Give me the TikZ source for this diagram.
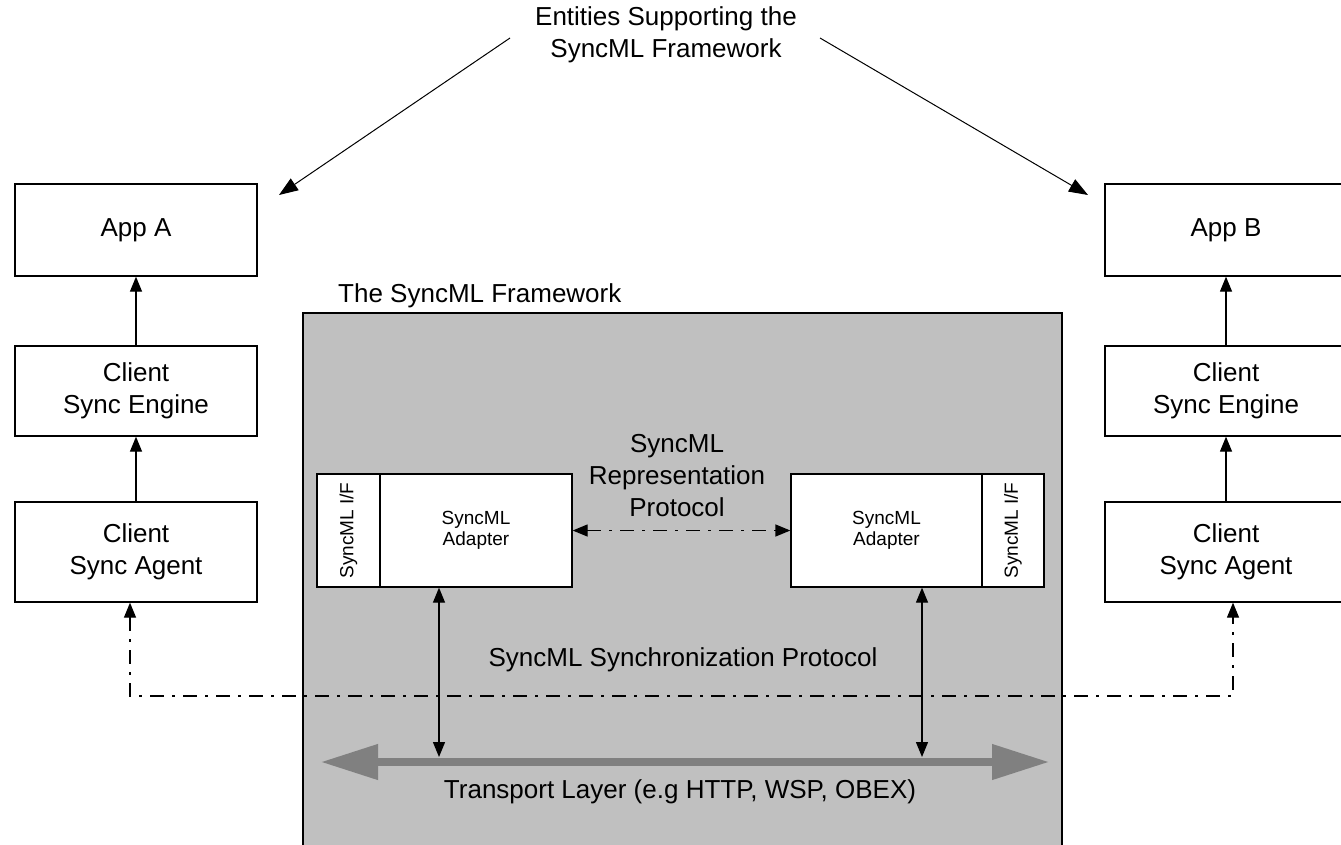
\documentclass[tikz,border=0pt]{standalone}
\usepackage{fontspec}
\setmainfont{Liberation Sans}
\usetikzlibrary{arrows.meta}
\definecolor{fwgray}{HTML}{C0C0C0}
\definecolor{tlgray}{HTML}{808080}
\begin{document}
\begin{tikzpicture}[x=1pt,y=-1pt,
  big/.style={font=\fontsize{26}{32}\selectfont},
  small/.style={font=\fontsize{19}{21}\selectfont},
  box/.style={draw, line width=1.3pt, fill=white, align=center, inner sep=0pt, big},
  adapter/.style={draw, line width=1.3pt, fill=white, align=center, inner sep=0pt, small,
                  minimum height=113pt},
  lbl/.style={align=center, inner sep=0pt, big},
  blk/.style={line width=1.3pt},
  onearrow/.style={blk, -{Triangle[length=15pt,width=12pt]}},
  twoarrow/.style={blk, {Triangle[length=15pt,width=12pt]}-{Triangle[length=15pt,width=12pt]}},
  dashdot/.style={line width=1.3pt, dash pattern=on 14pt off 8pt on 3pt off 8pt}
]
\useasboundingbox (0,0) rectangle (1341,844);
\fill[white] (0,0) rectangle (1341,844);

% heading and its two arrows
\node[lbl] (title) at (666,35) {Entities Supporting the\\SyncML Framework};
\coordinate (tl) at (510,38);
\coordinate (tr) at (820,38);
\coordinate (pa) at (279,195);
\coordinate (pb) at (1088,195);
\draw[line width=1pt, -{Triangle[length=19pt,width=14pt]}] (tl) -- (pa);
\draw[line width=1pt, -{Triangle[length=19pt,width=14pt]}] (tr) -- (pb);

% client stack A
\node[box, minimum width=242pt, minimum height=92pt] (appA) at (136,230) {App A};
\node[box, minimum width=242pt, minimum height=90pt] (engA) at (136,391) {Client\\Sync Engine};
\node[box, minimum width=242pt, minimum height=100pt] (agtA) at (136,552) {Client\\Sync Agent};
\draw[onearrow] (engA) -- (appA);
\draw[onearrow] (agtA) -- (engA);

% client stack B
\node[box, minimum width=242pt, minimum height=92pt] (appB) at (1226,230) {App B};
\node[box, minimum width=242pt, minimum height=90pt] (engB) at (1226,391) {Client\\Sync Engine};
\node[box, minimum width=242pt, minimum height=100pt] (agtB) at (1226,552) {Client\\Sync Agent};
\draw[onearrow] (engB) -- (appB);
\draw[onearrow] (agtB) -- (engB);

% the framework area
\node[lbl, anchor=west] (fwlabel) at (338,296) {The SyncML Framework};
\draw[line width=1.3pt, fill=fwgray] (303,313) rectangle (1062,860);

% adapters with their interface strips
\node[adapter, minimum width=63pt] (ifA) at (348.5,530.5) {};
\node[small, rotate=90, inner sep=0pt] (ifAtext) at (ifA.center) {SyncML I/F};
\node[adapter, minimum width=192pt] (adA) at (476,530.5) {SyncML\\Adapter};
\node[adapter, minimum width=191pt] (adB) at (886.5,530.5) {SyncML\\Adapter};
\node[adapter, minimum width=62pt] (ifB) at (1013,530.5) {};
\node[small, rotate=90, inner sep=0pt] (ifBtext) at (ifB.center) {SyncML I/F};

% representation protocol
\node[lbl] (rep) at (677,476) {SyncML\\Representation\\Protocol};
\draw[dashdot, {Triangle[length=15pt,width=12pt]}-{Triangle[length=15pt,width=12pt]}] (adA.east) -- (adB.west);

% synchronization protocol between the client agents
\node[lbl] (sync) at (683,660) {SyncML Synchronization Protocol};
\coordinate (cl) at (130,696);
\coordinate (cr) at (1233,696);
\draw[dashdot, {Triangle[length=15pt,width=12pt]}-{Triangle[length=15pt,width=12pt]}]
  (agtA.south -| cl) -- (cl) -- (cr) -- (agtB.south -| cr);

% transport layer
\coordinate (t1) at (321,762);
\coordinate (t2) at (1049,762);
\draw[tlgray, line width=7.5pt, {Triangle[length=57pt,width=34pt]}-{Triangle[length=57pt,width=34pt]}] (t1) -- (t2);
\node[lbl] (tlabel) at (680,792) {Transport Layer (e.g HTTP, WSP, OBEX)};

% adapter to transport links
\coordinate (va) at (439,757);
\coordinate (vb) at (922,757);
\draw[twoarrow] (adA.south -| va) -- (va);
\draw[twoarrow] (adB.south -| vb) -- (vb);
\end{tikzpicture}
\end{document}
